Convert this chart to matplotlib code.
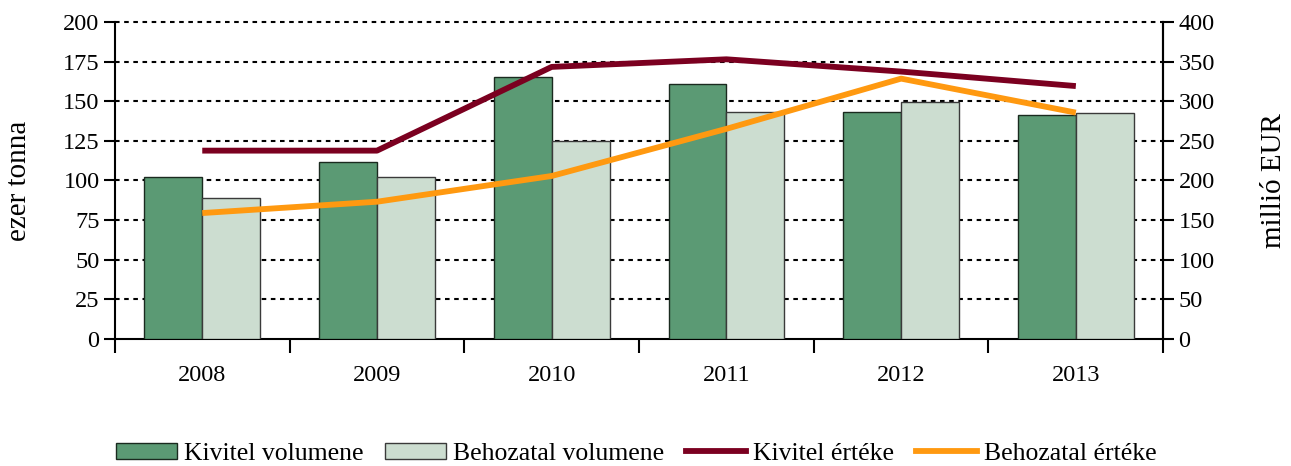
import matplotlib
matplotlib.use("Agg")
import matplotlib.pyplot as plt
import numpy as np
from matplotlib.patches import Patch
from matplotlib.lines import Line2D

years = ["2008", "2009", "2010", "2011", "2012", "2013"]
kivitel_vol = [102.3, 111.6, 165.5, 160.8, 143.2, 141.3]
behozatal_vol = [88.6, 102.1, 124.8, 143.0, 149.3, 142.5]
kivitel_ert = [237.5, 237.5, 343.2, 352.8, 337.3, 319.0]
behozatal_ert = [158.7, 173.0, 205.5, 265.0, 328.4, 285.5]

plt.rcParams['font.family'] = ['Liberation Serif', 'DejaVu Serif']
FS = 17.5
FS_LEG = 18.5
FS_LAB = 21

c_kv = "#5B9A74"
c_bv = "#CCDDD0"
c_ke = "#7B0020"
c_be = "#FF9910"

fig = plt.figure(figsize=(12.91, 4.66), dpi=100)
ax = fig.add_axes([0.089, 0.273, 0.812, 0.68])
x = np.arange(len(years))
w = 0.331
ax.bar(x - w/2, kivitel_vol, w, color=c_kv, edgecolor="#1a2a1f", linewidth=1.0, zorder=3)
ax.bar(x + w/2, behozatal_vol, w, color=c_bv, edgecolor="#3a3a3a", linewidth=1.0, zorder=3)
ax.set_xlim(-0.5, len(years) - 0.5)
ax.set_ylim(0, 200)
ax.set_yticks(np.arange(0, 201, 25))
ax.set_xticks(x)
ax.set_xticklabels(years, fontsize=FS)
ax.set_xticks(np.arange(-0.5, len(years), 1), minor=True)
ax.tick_params(axis='x', which='major', length=0, pad=19)
ax.tick_params(axis='x', which='minor', length=10, width=1.5, direction='out')
ax.tick_params(axis='y', length=8, width=1.5, direction='out', labelsize=FS, pad=3)
for yv in np.arange(25, 201, 25):
    ax.axhline(yv, color='black', linestyle=(0, (2.2, 2.2)), linewidth=1.5, zorder=1,
               clip_on=False)
ax.set_ylabel("ezer tonna", fontsize=FS_LAB, labelpad=22)
ax.spines['top'].set_visible(False)
for s in ['left', 'bottom', 'right']:
    ax.spines[s].set_linewidth(1.5)
    ax.spines[s].set_color('black')

ax2 = ax.twinx()
ax2.plot(x, kivitel_ert, color=c_ke, linewidth=4.2, zorder=4, solid_capstyle='butt')
ax2.plot(x, behozatal_ert, color=c_be, linewidth=4.2, zorder=4, solid_capstyle='butt')
ax2.set_ylim(0, 400)
ax2.set_yticks(np.arange(0, 401, 50))
ax2.tick_params(axis='y', length=8, width=1.5, direction='out', labelsize=FS, pad=3)
ax2.set_ylabel("millió EUR", fontsize=FS_LAB, labelpad=33)
ax2.yaxis.label.set_rotation(90)
ax2.spines['top'].set_visible(False)
ax2.spines['right'].set_linewidth(1.5)
ax2.spines['left'].set_visible(False)
ax2.spines['bottom'].set_visible(False)

handles = [
    Patch(facecolor=c_kv, edgecolor="#1a2a1f", linewidth=1.0),
    Patch(facecolor=c_bv, edgecolor="#3a3a3a", linewidth=1.0),
    Line2D([0], [0], color=c_ke, linewidth=4.2),
    Line2D([0], [0], color=c_be, linewidth=4.2),
]
labels = ["Kivitel volumene", "Behozatal volumene", "Kivitel értéke", "Behozatal értéke"]
fig.legend(handles, labels, loc='center', bbox_to_anchor=(0.493, 0.026), ncol=4,
           frameon=False, fontsize=FS_LEG, handlelength=2.35, handleheight=0.55,
           handletextpad=0.28, columnspacing=0.85, borderpad=0, borderaxespad=0)

fig.savefig("out.png", dpi=100)
